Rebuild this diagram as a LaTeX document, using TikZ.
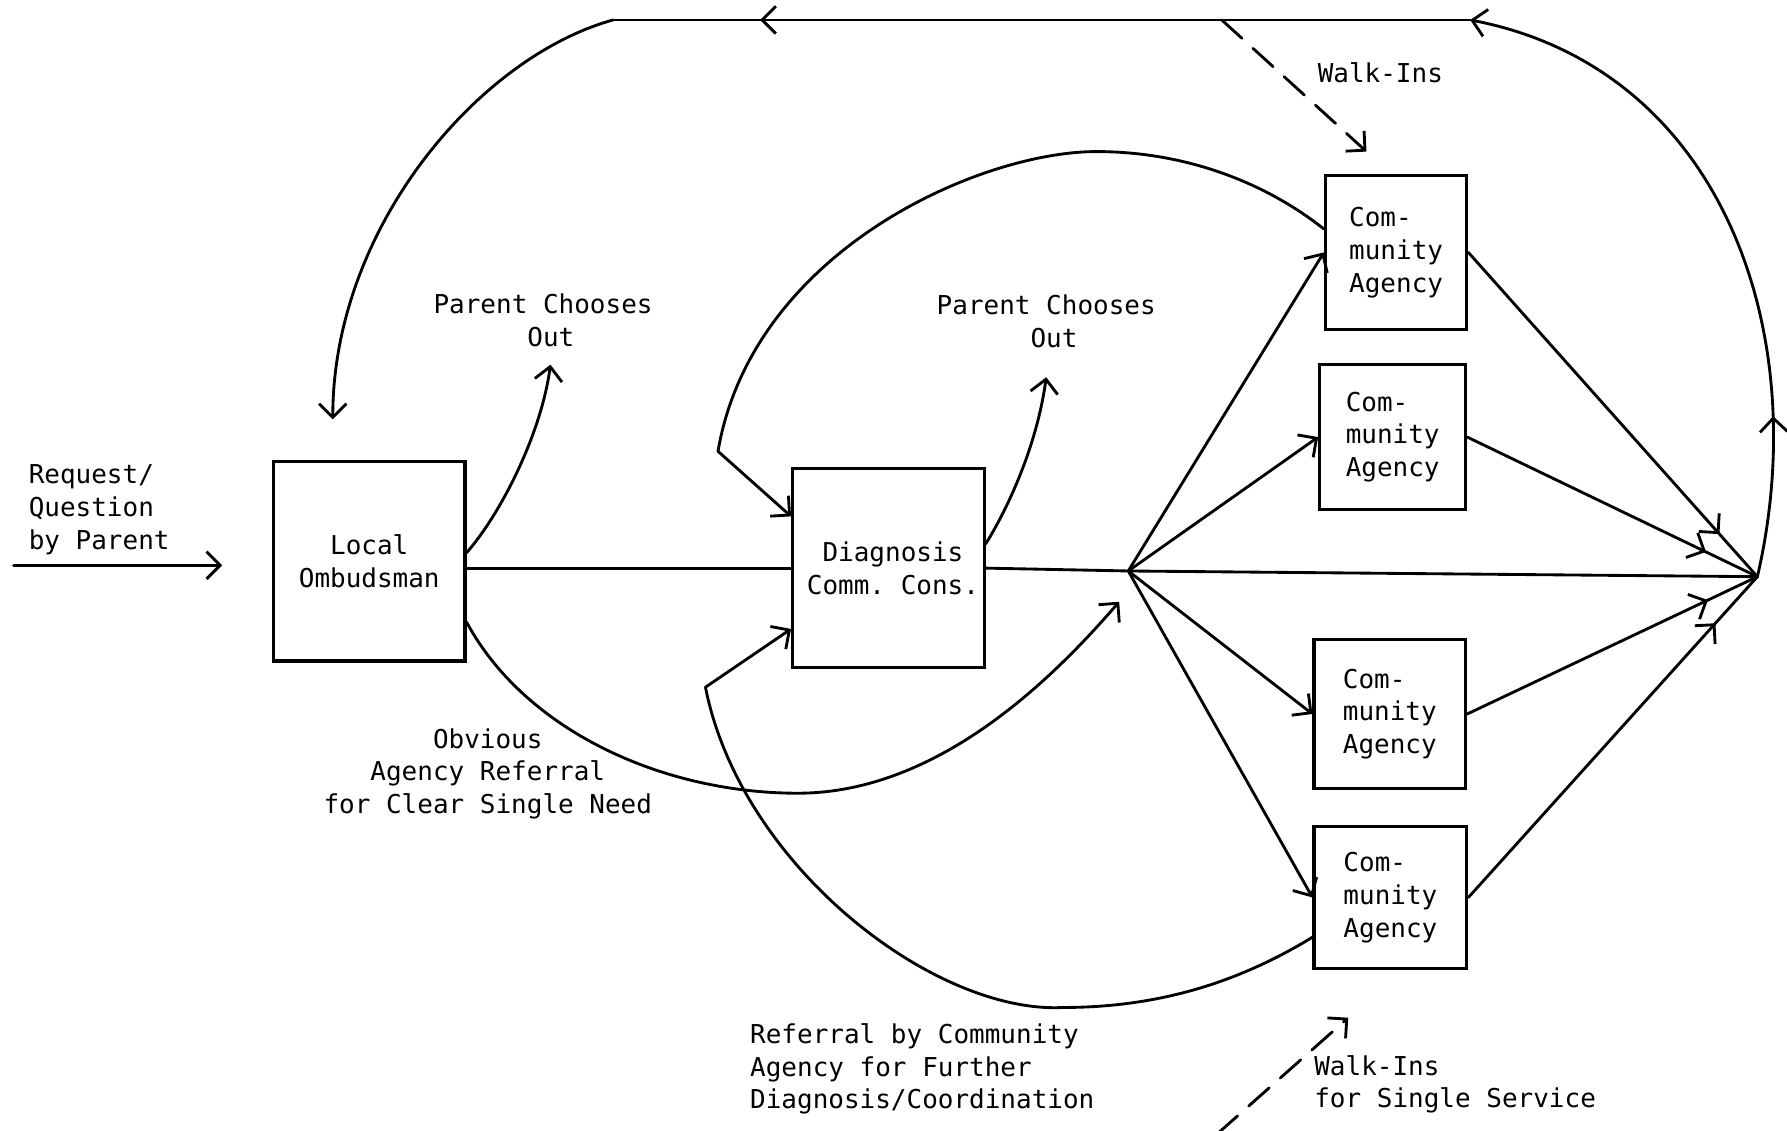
\documentclass[tikz,border=0pt]{standalone}
\usepackage{fontspec}
\setmainfont{DejaVu Sans Mono}
\frenchspacing
\usetikzlibrary{arrows.meta,decorations.markings}
\begin{document}
\begin{tikzpicture}[x=1pt,y=-1pt,
  line width=2.5pt, line cap=round,
  >={Straight Barb[length=12pt,width=24pt]},
  every node/.style={font=\fontsize{22.8}{28.8}\selectfont, inner sep=0pt},
  boxnode/.style={draw, line width=2.8pt, line cap=butt, align=center},
  agencybox/.style={boxnode, align=left},
  tipat/.style={postaction={decorate, decoration={markings,
      mark=at position #1 with {\arrow{>}}}}},
  walk/.style={->, dash pattern=on 24pt off 13pt},
]
\useasboundingbox (0,0) rectangle (1568,992);

% boxes
\node[boxnode, minimum width=168pt, minimum height=175pt] (lo) at (324,492.5) {Local\\Ombudsman};
\node[boxnode, minimum width=168pt, minimum height=175pt] (dc) at (779.5,498.5) {\hspace*{8pt}Diagnosis\\\hspace*{8pt}Comm. Cons.};
\node[agencybox, minimum width=124pt, minimum height=135pt] (ca1) at (1225,221.5) {Com-\\munity\\Agency};
\node[agencybox, minimum width=128pt, minimum height=127pt] (ca2) at (1222,383.5) {Com-\\munity\\Agency};
\node[agencybox, minimum width=133pt, minimum height=131pt] (ca3) at (1219.5,626.5) {Com-\\munity\\Agency};
\node[agencybox, minimum width=134pt, minimum height=125pt] (ca4) at (1220,787.5) {Com-\\munity\\Agency};

% labels
\node[anchor=west, align=left] (reqlbl) at (24,447) {Request/\\Question\\by Parent};
\node[align=left] (out1lbl) at (476.5,281) {Parent Chooses\\\hphantom{Parent}Out};
\node[align=left] (out2lbl) at (918,282) {Parent Chooses\\\hphantom{Parent}Out};
\node[align=center] (obvlbl) at (428,679) {Obvious\\Agency Referral\\for Clear Single Need};
\node[anchor=west, align=left] (reflbl) at (657,938) {Referral by Community\\Agency for Further\\Diagnosis/Coordination};
\node[anchor=west] (walk1) at (1155,64) {Walk-Ins};
\node[anchor=west, align=left] (walk2) at (1152,951.5) {Walk-Ins\\for Single Service};

% junctions and free ends
\coordinate (req0) at (12,496);
\coordinate (req1) at (195,496);
\coordinate (J) at (990,501);
\coordinate (K) at (1542,506);
\coordinate (T1) at (1290,17.5);
\coordinate (T2) at (538,17.5);
\coordinate (loin) at (292,368);
\coordinate (out1) at (483,320);
\coordinate (out2) at (918,331);
\coordinate (kinkA) at (630,396);
\coordinate (kinkB) at (619,603);
\coordinate (obv) at (982,528);
\coordinate (wtop0) at (1072,17.5);
\coordinate (wtop1) at (1199,133);
\coordinate (wbot0) at (1068,995);
\coordinate (wbot1) at (1183,893);

% main line
\draw[->] (req0) -- (req1);
\draw (lo.east |- dc.west) -- (dc.west);
\draw (dc.east) -- (J) -- (K);

% fan out to the agencies
\draw[->] (J) -- (ca1.west);
\draw[->] (J) -- (ca2.west);
\draw[->] (J) -- (ca3.west);
\draw[->] (J) -- (ca4.west);

% fan in from the agencies
\draw[tipat=-50pt] (ca1.east) -- (K);
\draw[tipat=-50pt] (ca2.east) -- (K);
\draw[tipat=-48pt] (ca3.east) -- (K);
\draw[tipat=-55pt] (ca4.east) -- (K);

% return loop back to the ombudsman
\draw[->, tipat=0.23] (K) .. controls (1592,290) and (1510,60) .. (T1);
\draw[tipat=-129pt] (T1) -- (T2);
\draw[->] (T2) .. controls (420,50) and (292,200) .. (loin);

% parent chooses out
\draw[->] (lo.5) .. controls (440,450) and (475,380) .. (out1);
\draw[->] (dc.14) .. controls (885,445) and (910,390) .. (out2);

% obvious agency referral
\draw[->] (lo.-32) .. controls (460,640) and (580,696) .. (700,696)
  .. controls (820,696) and (920,600) .. (obv);

% referrals back for further diagnosis
\draw (ca1.162) .. controls (1110,160) and (1040,133) .. (962,133)
  .. controls (860,133) and (660,220) .. (kinkA);
\draw[->] (kinkA) -- (dc.152);
\draw (ca4.207) .. controls (1090,860) and (1020,884) .. (933,884)
  .. controls (820,890) and (650,760) .. (kinkB);
\draw[->] (kinkB) -- (dc.212);

% walk-ins
\draw[walk] (wtop0) -- (wtop1);
\draw[walk] (wbot0) -- (wbot1);
\end{tikzpicture}
\end{document}
